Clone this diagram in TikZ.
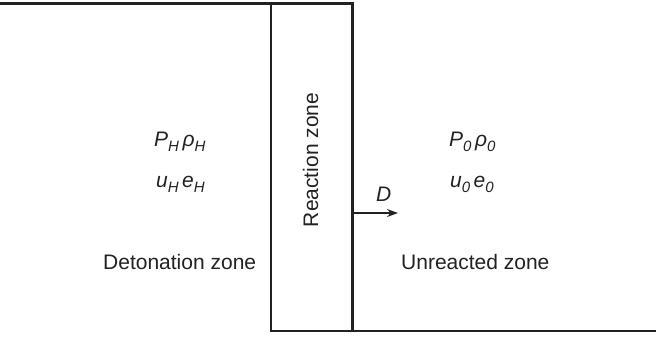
\documentclass[tikz,border=0pt]{standalone}
\usepackage{fontspec}
\setmainfont{Liberation Sans}
\usetikzlibrary{arrows.meta}
\newcommand\sbs[1]{\raisebox{-5pt}{\fontsize{15}{15}\selectfont #1}}
\definecolor{ink}{HTML}{222222}
\begin{document}
\begin{tikzpicture}[x=1pt,y=1pt,
  wall/.style={draw=ink,line width=2.4pt,line cap=rect},
  lbl/.style={inner sep=0pt,anchor=base west,text=ink,font=\fontsize{21}{21}\selectfont},
  var/.style={lbl,font=\fontsize{21}{21}\selectfont\itshape}]
\useasboundingbox (0,0) rectangle (658,337);
\fill[white] (0,0) rectangle (658,337);
% walls
\coordinate (tl) at (0,333.5);
\coordinate (rtop) at (352.5,333.5);
\coordinate (rbot) at (352.5,6);
\coordinate (ltop) at (271,333.5);
\coordinate (lbot) at (271,6);
\coordinate (br) at (655,6);
\draw[wall] (tl) -- (rtop) -- (rbot);
\draw[wall] (ltop) -- (lbot) -- (br);
% arrow
\coordinate (as) at (352.5,124);
\coordinate (ae) at (398,124);
\draw[draw=ink,line width=1.3pt,-{Stealth[length=11pt,width=8pt]}] (as) -- (ae);
\node[var] (D) at (376,135) {D};
% labels
\node[var] (PH) at (154,190) {P\sbs{H}\,ρ\sbs{H}};
\node[var] (uH) at (156,149) {u\sbs{H}\,e\sbs{H}};
\node[lbl] (det) at (103,67) {Detonation zone};
\node[var] (P0) at (449,190) {P\sbs{0}\,ρ\sbs{0}};
\node[var] (u0) at (450,149) {u\sbs{0}\,e\sbs{0}};
\node[lbl] (unr) at (401,67) {Unreacted zone};
\node[lbl,rotate=90,anchor=base] (rz) at (318,177) {Reaction zone};
\end{tikzpicture}
\end{document}
